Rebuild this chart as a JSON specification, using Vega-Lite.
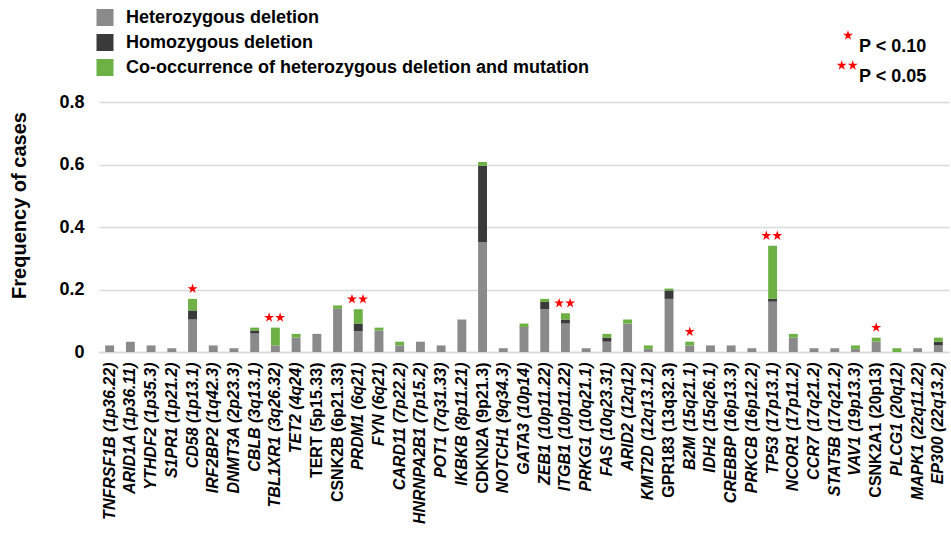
{
  "$schema": "https://vega.github.io/schema/vega-lite/v6.json",
  "width": 850,
  "height": 250,
  "autosize": {"type": "none"},
  "padding": {"left": 99, "top": 102, "right": 2, "bottom": 181},
  "background": "white",
  "config": {
    "view": {"stroke": null},
    "font": "Liberation Sans",
    "legend": {"padding": 0, "titlePadding": 0}
  },
  "datasets": {
    "bars": [
      {"gene": "TNFRSF1B (1p36.22)", "type": "Heterozygous deletion", "rank": 1, "value": 0.021},
      {"gene": "ARID1A (1p36.11)", "type": "Heterozygous deletion", "rank": 1, "value": 0.033},
      {"gene": "YTHDF2 (1p35.3)", "type": "Heterozygous deletion", "rank": 1, "value": 0.021},
      {"gene": "S1PR1 (1p21.2)", "type": "Heterozygous deletion", "rank": 1, "value": 0.012},
      {"gene": "CD58 (1p13.1)", "type": "Heterozygous deletion", "rank": 1, "value": 0.104},
      {"gene": "CD58 (1p13.1)", "type": "Homozygous deletion", "rank": 2, "value": 0.029},
      {"gene": "CD58 (1p13.1)", "type": "Co-occurrence of heterozygous deletion and mutation", "rank": 3, "value": 0.037},
      {"gene": "IRF2BP2 (1q42.3)", "type": "Heterozygous deletion", "rank": 1, "value": 0.021},
      {"gene": "DNMT3A (2p23.3)", "type": "Heterozygous deletion", "rank": 1, "value": 0.012},
      {"gene": "CBLB (3q13.1)", "type": "Heterozygous deletion", "rank": 1, "value": 0.059},
      {"gene": "CBLB (3q13.1)", "type": "Homozygous deletion", "rank": 2, "value": 0.010},
      {"gene": "CBLB (3q13.1)", "type": "Co-occurrence of heterozygous deletion and mutation", "rank": 3, "value": 0.009},
      {"gene": "TBL1XR1 (3q26.32)", "type": "Heterozygous deletion", "rank": 1, "value": 0.021},
      {"gene": "TBL1XR1 (3q26.32)", "type": "Co-occurrence of heterozygous deletion and mutation", "rank": 3, "value": 0.057},
      {"gene": "TET2 (4q24)", "type": "Heterozygous deletion", "rank": 1, "value": 0.046},
      {"gene": "TET2 (4q24)", "type": "Co-occurrence of heterozygous deletion and mutation", "rank": 3, "value": 0.012},
      {"gene": "TERT (5p15.33)", "type": "Heterozygous deletion", "rank": 1, "value": 0.058},
      {"gene": "CSNK2B (6p21.33)", "type": "Heterozygous deletion", "rank": 1, "value": 0.138},
      {"gene": "CSNK2B (6p21.33)", "type": "Co-occurrence of heterozygous deletion and mutation", "rank": 3, "value": 0.011},
      {"gene": "PRDM1 (6q21)", "type": "Heterozygous deletion", "rank": 1, "value": 0.067},
      {"gene": "PRDM1 (6q21)", "type": "Homozygous deletion", "rank": 2, "value": 0.024},
      {"gene": "PRDM1 (6q21)", "type": "Co-occurrence of heterozygous deletion and mutation", "rank": 3, "value": 0.046},
      {"gene": "FYN (6q21)", "type": "Heterozygous deletion", "rank": 1, "value": 0.069},
      {"gene": "FYN (6q21)", "type": "Co-occurrence of heterozygous deletion and mutation", "rank": 3, "value": 0.009},
      {"gene": "CARD11 (7p22.2)", "type": "Heterozygous deletion", "rank": 1, "value": 0.021},
      {"gene": "CARD11 (7p22.2)", "type": "Co-occurrence of heterozygous deletion and mutation", "rank": 3, "value": 0.012},
      {"gene": "HNRNPA2B1 (7p15.2)", "type": "Heterozygous deletion", "rank": 1, "value": 0.033},
      {"gene": "POT1 (7q31.33)", "type": "Heterozygous deletion", "rank": 1, "value": 0.021},
      {"gene": "IKBKB (8p11.21)", "type": "Heterozygous deletion", "rank": 1, "value": 0.104},
      {"gene": "CDKN2A (9p21.3)", "type": "Heterozygous deletion", "rank": 1, "value": 0.352},
      {"gene": "CDKN2A (9p21.3)", "type": "Homozygous deletion", "rank": 2, "value": 0.244},
      {"gene": "CDKN2A (9p21.3)", "type": "Co-occurrence of heterozygous deletion and mutation", "rank": 3, "value": 0.012},
      {"gene": "NOTCH1 (9q34.3)", "type": "Heterozygous deletion", "rank": 1, "value": 0.012},
      {"gene": "GATA3 (10p14)", "type": "Heterozygous deletion", "rank": 1, "value": 0.080},
      {"gene": "GATA3 (10p14)", "type": "Co-occurrence of heterozygous deletion and mutation", "rank": 3, "value": 0.011},
      {"gene": "ZEB1 (10p11.22)", "type": "Heterozygous deletion", "rank": 1, "value": 0.137},
      {"gene": "ZEB1 (10p11.22)", "type": "Homozygous deletion", "rank": 2, "value": 0.023},
      {"gene": "ZEB1 (10p11.22)", "type": "Co-occurrence of heterozygous deletion and mutation", "rank": 3, "value": 0.010},
      {"gene": "ITGB1 (10p11.22)", "type": "Heterozygous deletion", "rank": 1, "value": 0.091},
      {"gene": "ITGB1 (10p11.22)", "type": "Homozygous deletion", "rank": 2, "value": 0.013},
      {"gene": "ITGB1 (10p11.22)", "type": "Co-occurrence of heterozygous deletion and mutation", "rank": 3, "value": 0.020},
      {"gene": "PRKG1 (10q21.1)", "type": "Heterozygous deletion", "rank": 1, "value": 0.012},
      {"gene": "FAS (10q23.31)", "type": "Heterozygous deletion", "rank": 1, "value": 0.033},
      {"gene": "FAS (10q23.31)", "type": "Homozygous deletion", "rank": 2, "value": 0.013},
      {"gene": "FAS (10q23.31)", "type": "Co-occurrence of heterozygous deletion and mutation", "rank": 3, "value": 0.012},
      {"gene": "ARID2 (12q12)", "type": "Heterozygous deletion", "rank": 1, "value": 0.091},
      {"gene": "ARID2 (12q12)", "type": "Co-occurrence of heterozygous deletion and mutation", "rank": 3, "value": 0.013},
      {"gene": "KMT2D (12q13.12)", "type": "Heterozygous deletion", "rank": 1, "value": 0.010},
      {"gene": "KMT2D (12q13.12)", "type": "Co-occurrence of heterozygous deletion and mutation", "rank": 3, "value": 0.011},
      {"gene": "GPR183 (13q32.3)", "type": "Heterozygous deletion", "rank": 1, "value": 0.170},
      {"gene": "GPR183 (13q32.3)", "type": "Homozygous deletion", "rank": 2, "value": 0.027},
      {"gene": "GPR183 (13q32.3)", "type": "Co-occurrence of heterozygous deletion and mutation", "rank": 3, "value": 0.006},
      {"gene": "B2M (15q21.1)", "type": "Heterozygous deletion", "rank": 1, "value": 0.021},
      {"gene": "B2M (15q21.1)", "type": "Co-occurrence of heterozygous deletion and mutation", "rank": 3, "value": 0.012},
      {"gene": "IDH2 (15q26.1)", "type": "Heterozygous deletion", "rank": 1, "value": 0.021},
      {"gene": "CREBBP (16p13.3)", "type": "Heterozygous deletion", "rank": 1, "value": 0.021},
      {"gene": "PRKCB (16p12.2)", "type": "Heterozygous deletion", "rank": 1, "value": 0.012},
      {"gene": "TP53 (17p13.1)", "type": "Heterozygous deletion", "rank": 1, "value": 0.161},
      {"gene": "TP53 (17p13.1)", "type": "Homozygous deletion", "rank": 2, "value": 0.009},
      {"gene": "TP53 (17p13.1)", "type": "Co-occurrence of heterozygous deletion and mutation", "rank": 3, "value": 0.170},
      {"gene": "NCOR1 (17p11.2)", "type": "Heterozygous deletion", "rank": 1, "value": 0.046},
      {"gene": "NCOR1 (17p11.2)", "type": "Co-occurrence of heterozygous deletion and mutation", "rank": 3, "value": 0.012},
      {"gene": "CCR7 (17q21.2)", "type": "Heterozygous deletion", "rank": 1, "value": 0.012},
      {"gene": "STAT5B (17q21.2)", "type": "Heterozygous deletion", "rank": 1, "value": 0.012},
      {"gene": "VAV1 (19p13.3)", "type": "Heterozygous deletion", "rank": 1, "value": 0.010},
      {"gene": "VAV1 (19p13.3)", "type": "Co-occurrence of heterozygous deletion and mutation", "rank": 3, "value": 0.011},
      {"gene": "CSNK2A1 (20p13)", "type": "Heterozygous deletion", "rank": 1, "value": 0.033},
      {"gene": "CSNK2A1 (20p13)", "type": "Co-occurrence of heterozygous deletion and mutation", "rank": 3, "value": 0.013},
      {"gene": "PLCG1 (20q12)", "type": "Co-occurrence of heterozygous deletion and mutation", "rank": 3, "value": 0.012},
      {"gene": "MAPK1 (22q11.22)", "type": "Heterozygous deletion", "rank": 1, "value": 0.012},
      {"gene": "EP300 (22q13.2)", "type": "Heterozygous deletion", "rank": 1, "value": 0.021},
      {"gene": "EP300 (22q13.2)", "type": "Homozygous deletion", "rank": 2, "value": 0.012},
      {"gene": "EP300 (22q13.2)", "type": "Co-occurrence of heterozygous deletion and mutation", "rank": 3, "value": 0.013}
    ],
    "stars": [
      {"gene": "CD58 (1p13.1)", "total": 0.170, "sig": "P < 0.10"},
      {"gene": "TBL1XR1 (3q26.32)", "total": 0.078, "sig": "P < 0.05"},
      {"gene": "PRDM1 (6q21)", "total": 0.137, "sig": "P < 0.05"},
      {"gene": "ITGB1 (10p11.22)", "total": 0.124, "sig": "P < 0.05"},
      {"gene": "B2M (15q21.1)", "total": 0.033, "sig": "P < 0.10"},
      {"gene": "TP53 (17p13.1)", "total": 0.340, "sig": "P < 0.05"},
      {"gene": "CSNK2A1 (20p13)", "total": 0.046, "sig": "P < 0.10"}
    ]
  },
  "layer": [
    {
      "data": {"name": "bars"},
      "mark": {"type": "bar"},
      "encoding": {
        "x": {
          "field": "gene",
          "type": "nominal",
          "scale": {
            "domain": ["TNFRSF1B (1p36.22)", "ARID1A (1p36.11)", "YTHDF2 (1p35.3)", "S1PR1 (1p21.2)", "CD58 (1p13.1)", "IRF2BP2 (1q42.3)", "DNMT3A (2p23.3)", "CBLB (3q13.1)", "TBL1XR1 (3q26.32)", "TET2 (4q24)", "TERT (5p15.33)", "CSNK2B (6p21.33)", "PRDM1 (6q21)", "FYN (6q21)", "CARD11 (7p22.2)", "HNRNPA2B1 (7p15.2)", "POT1 (7q31.33)", "IKBKB (8p11.21)", "CDKN2A (9p21.3)", "NOTCH1 (9q34.3)", "GATA3 (10p14)", "ZEB1 (10p11.22)", "ITGB1 (10p11.22)", "PRKG1 (10q21.1)", "FAS (10q23.31)", "ARID2 (12q12)", "KMT2D (12q13.12)", "GPR183 (13q32.3)", "B2M (15q21.1)", "IDH2 (15q26.1)", "CREBBP (16p13.3)", "PRKCB (16p12.2)", "TP53 (17p13.1)", "NCOR1 (17p11.2)", "CCR7 (17q21.2)", "STAT5B (17q21.2)", "VAV1 (19p13.3)", "CSNK2A1 (20p13)", "PLCG1 (20q12)", "MAPK1 (22q11.22)", "EP300 (22q13.2)"],
            "paddingInner": 0.57,
            "paddingOuter": 0.3
          },
          "axis": {
            "title": null,
            "labelAngle": -90,
            "labelFontSize": 16,
            "labelFontWeight": "bold",
            "labelColor": "#000000",
            "labelPadding": 10,
            "labelFontStyle": {
              "condition": {"test": "indexof(['TERT (5p15.33)','CSNK2B (6p21.33)','CDKN2A (9p21.3)','GPR183 (13q32.3)','CSNK2A1 (20p13)'], datum.value) >= 0", "value": "normal"},
              "value": "italic"
            },
            "ticks": false,
            "domainColor": "#d9d9d9",
            "domainWidth": 1.5,
            "grid": false
          }
        },
        "y": {
          "field": "value",
          "type": "quantitative",
          "stack": "zero",
          "scale": {"domain": [0, 0.8], "nice": false},
          "axis": {
            "title": "Frequency of cases",
            "titleFontSize": 20,
            "titleFontWeight": "bold",
            "titleColor": "#000000",
            "titleAngle": -90,
            "titleX": -80,
            "titleY": 103,
            "titleAlign": "center",
            "titleBaseline": "middle",
            "values": [0, 0.2, 0.4, 0.6, 0.8],
            "labelExpr": "datum.value == 0 ? '0' : format(datum.value, '.1f')",
            "labelFontSize": 18,
            "labelFontWeight": "bold",
            "labelColor": "#000000",
            "labelPadding": 15,
            "domain": false,
            "ticks": false,
            "grid": true,
            "gridColor": "#d9d9d9",
            "gridWidth": 1.5
          }
        },
        "color": {
          "field": "type",
          "type": "nominal",
          "scale": {
            "domain": ["Heterozygous deletion", "Homozygous deletion", "Co-occurrence of heterozygous deletion and mutation"],
            "range": ["#8a8a8a", "#3a3a3a", "#6db144"]
          },
          "legend": {
            "title": null,
            "orient": "none",
            "legendX": -3,
            "legendY": -93.5,
            "direction": "vertical",
            "symbolType": "square",
            "symbolSize": 289,
            "symbolStrokeWidth": 0,
            "symbolOpacity": 1,
            "labelFontSize": 18,
            "labelFontWeight": "bold",
            "labelColor": "#000000",
            "labelOffset": 12,
            "rowPadding": 7,
            "labelLimit": 600,
            "encode": {
              "symbols": {
                "update": {
                  "fill": {"signal": "datum.value === 'Heterozygous deletion' ? '#a6a6a6' : (datum.value === 'Homozygous deletion' ? '#3a3a3a' : '#6db144')"}
                }
              }
            }
          }
        },
        "order": {"field": "rank", "type": "quantitative", "sort": "ascending"}
      }
    },
    {
      "data": {"name": "stars"},
      "mark": {"type": "point", "filled": true, "color": "#ff0000", "opacity": 1, "size": 110, "strokeWidth": 0, "yOffset": 1.5},
      "encoding": {
        "x": {"field": "gene", "type": "nominal"},
        "y": {"field": "total", "type": "quantitative"},
        "shape": {
          "field": "sig",
          "type": "nominal",
          "scale": {
            "domain": ["P < 0.10", "P < 0.05"],
            "range": [
              "M0,-3.2L0.2245,-2.509L0.951,-2.509L0.363,-2.082L0.588,-1.391L0,-1.818L-0.588,-1.391L-0.363,-2.082L-0.951,-2.509L-0.2245,-2.509Z",
              "M-1.2,-3.2L-0.9755,-2.509L-0.249,-2.509L-0.837,-2.082L-0.612,-1.391L-1.2,-1.818L-1.788,-1.391L-1.563,-2.082L-2.151,-2.509L-1.4245,-2.509ZM0.9,-3.2L1.1245,-2.509L1.851,-2.509L1.263,-2.082L1.488,-1.391L0.9,-1.818L0.312,-1.391L0.537,-2.082L-0.051,-2.509L0.6755,-2.509Z"
            ]
          },
          "legend": {
            "title": null,
            "orient": "none",
            "legendX": 740,
            "legendY": -64,
            "direction": "vertical",
            "symbolSize": 110,
            "symbolFillColor": "#ff0000",
            "symbolStrokeWidth": 0,
            "symbolOpacity": 1,
            "labelFontSize": 18,
            "labelFontWeight": "bold",
            "labelColor": "#000000",
            "labelOffset": 2,
            "rowPadding": 4
          }
        }
      }
    }
  ]
}
